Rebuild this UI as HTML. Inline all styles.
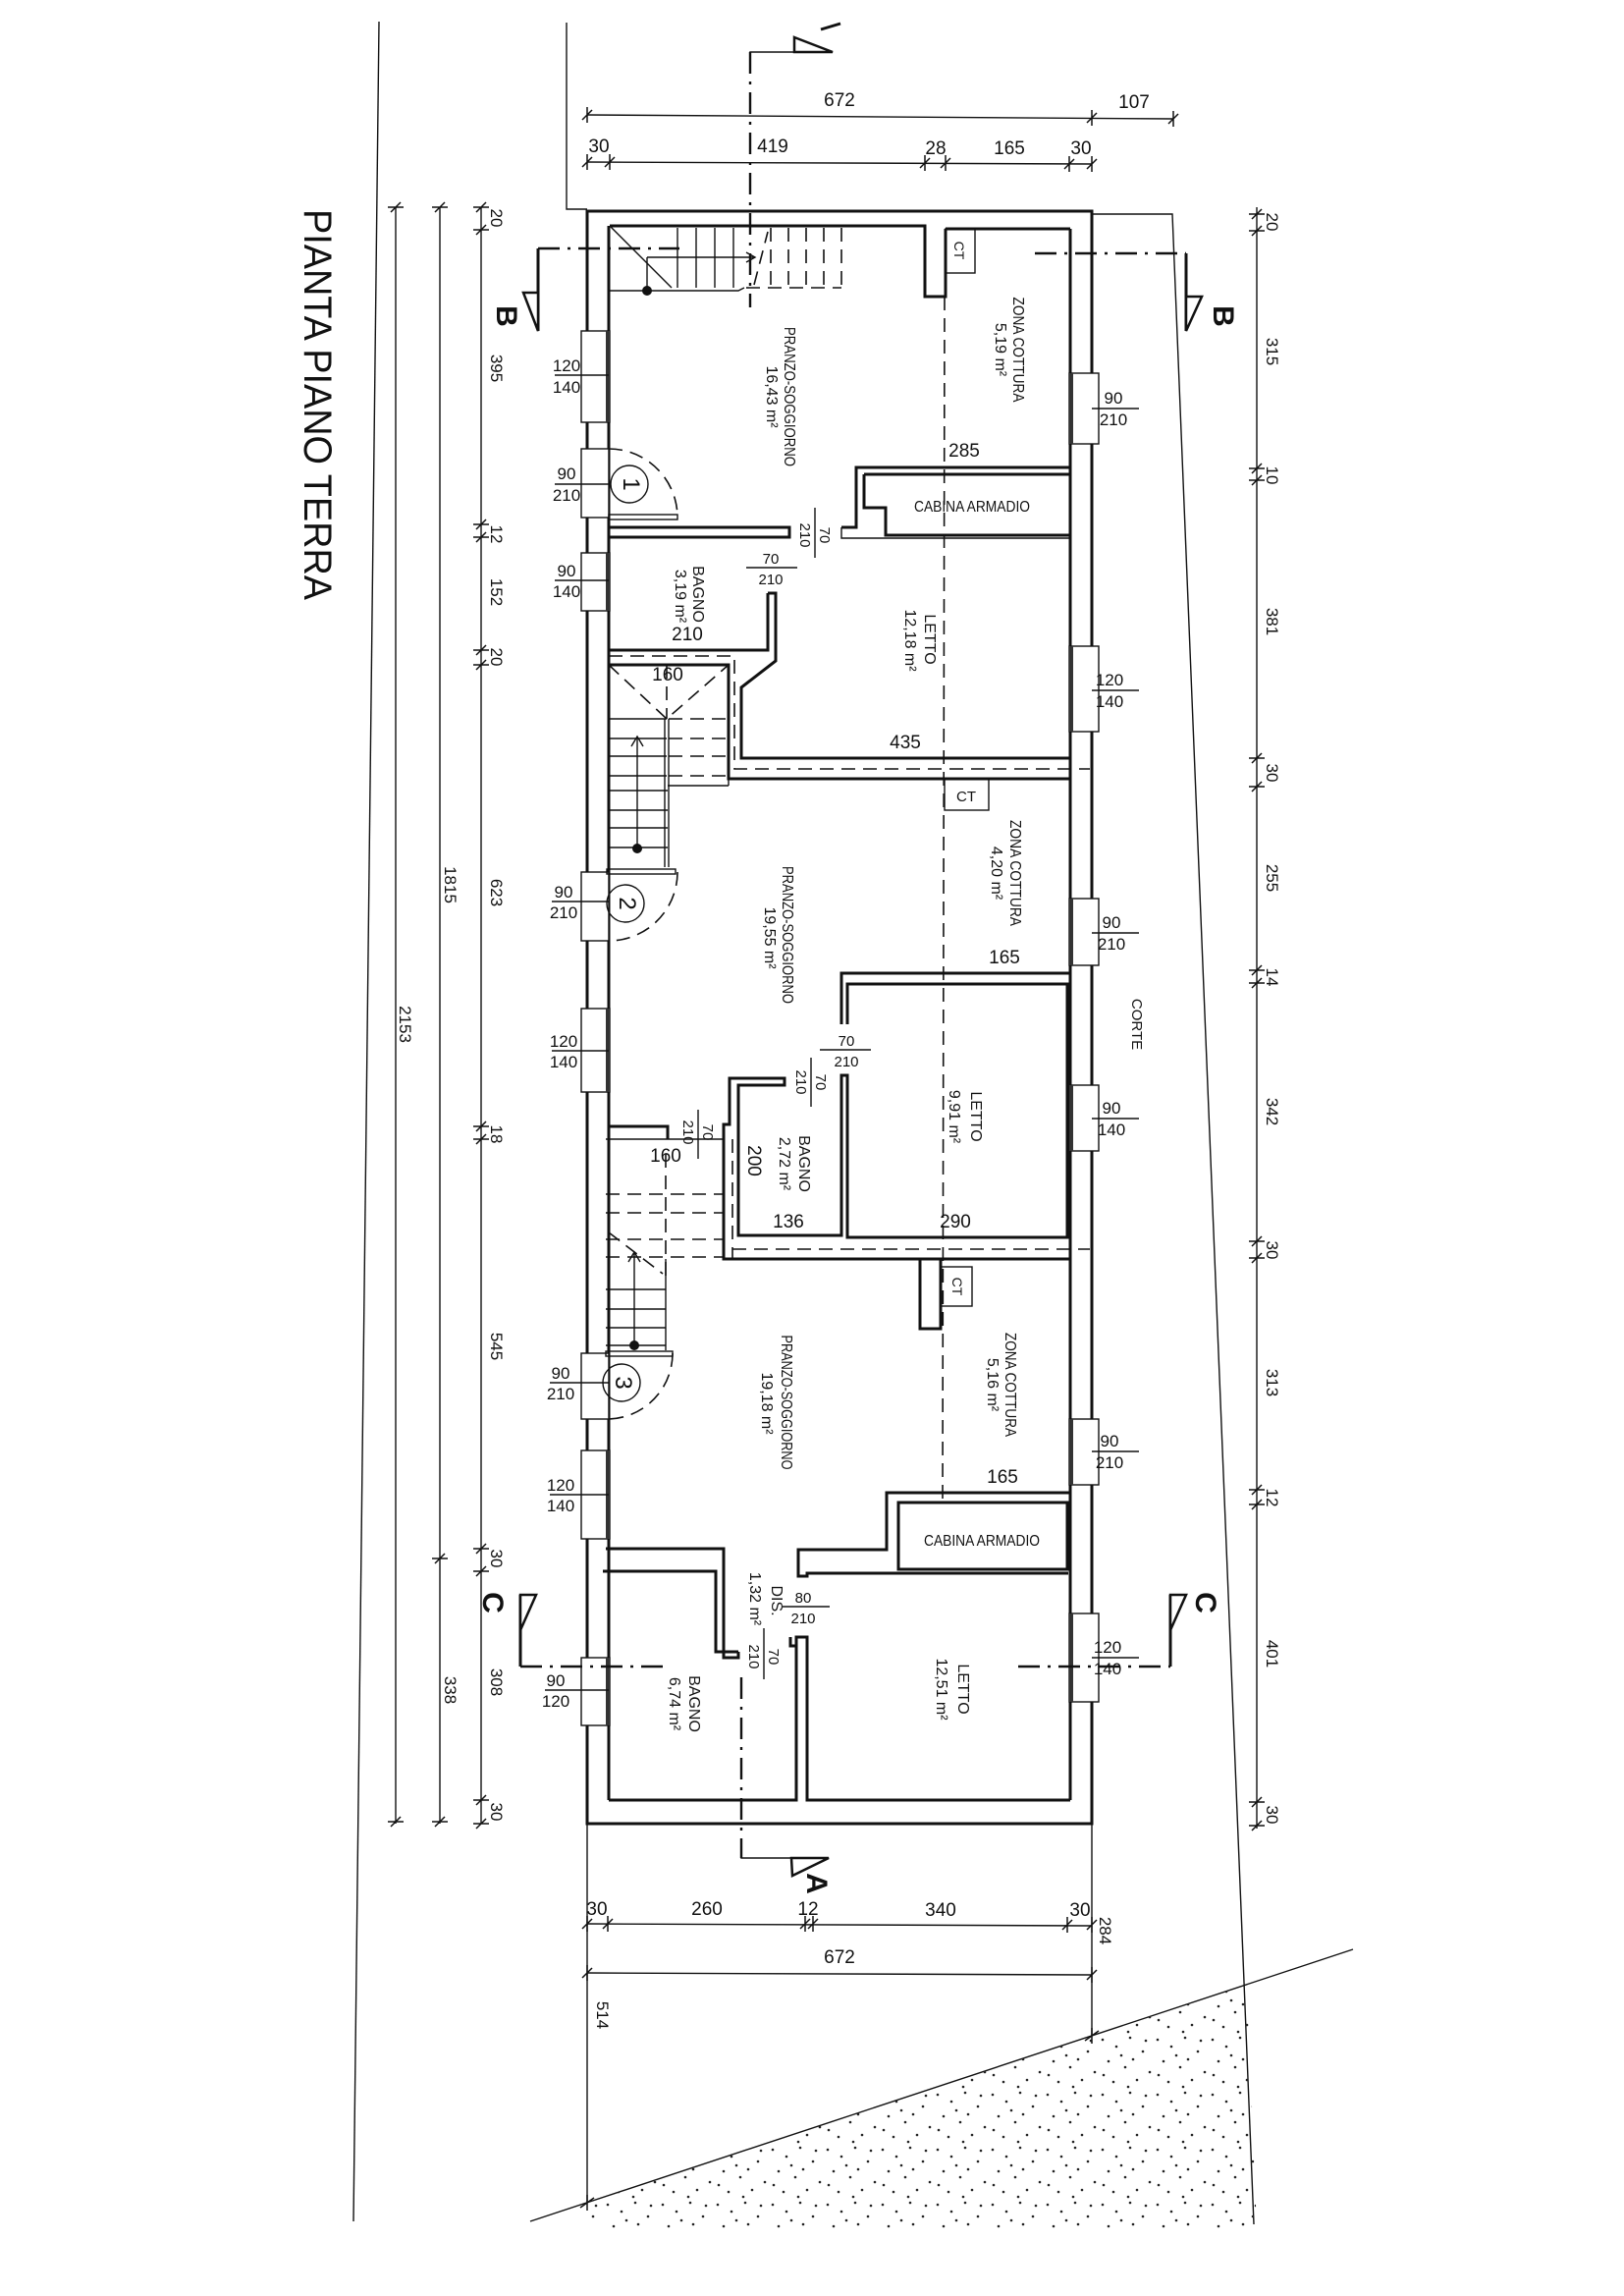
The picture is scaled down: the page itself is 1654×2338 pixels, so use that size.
<!DOCTYPE html>
<html><head><meta charset="utf-8"><style>
html,body{margin:0;padding:0;background:#fff}
svg{display:block}
text{font-family:"Liberation Sans Narrow","Liberation Sans",sans-serif;fill:#111}
.w{fill:none;stroke:#111;stroke-width:3}
.t{fill:none;stroke:#111;stroke-width:1.4}
.d{fill:none;stroke:#111;stroke-width:1.6;stroke-dasharray:14 8}
.dd{fill:none;stroke:#111;stroke-width:2.4;stroke-dasharray:22 8 3 8}
.win{fill:#fff;stroke:#111;stroke-width:1.4}
</style></head><body>
<svg width="1654" height="2338" viewBox="0 0 1654 2338" xmlns="http://www.w3.org/2000/svg">
<defs>
<pattern id="dots" width="56" height="56" patternUnits="userSpaceOnUse">
<g fill="#222"><circle cx="3" cy="5" r="1.3"/><circle cx="17" cy="12" r="1.3"/><circle cx="31" cy="3" r="1.3"/><circle cx="44" cy="17" r="1.3"/><circle cx="9" cy="27" r="1.3"/><circle cx="26" cy="33" r="1.3"/><circle cx="51" cy="38" r="1.3"/><circle cx="38" cy="46" r="1.3"/><circle cx="14" cy="48" r="1.3"/><circle cx="22" cy="21" r="1.3"/><circle cx="47" cy="6" r="1.3"/><circle cx="4" cy="41" r="1.3"/><circle cx="34" cy="25" r="1.3"/><circle cx="29" cy="53" r="1.3"/></g>
</pattern>
<clipPath id="gc"><polygon points="598,2243 1270,2020 1280,2270 600,2270"/></clipPath>
</defs>

<!-- title -->
<text transform="translate(310,412) rotate(90)" font-size="40" text-anchor="middle" textLength="398" lengthAdjust="spacingAndGlyphs" font-family="Liberation Sans">PIANTA PIANO TERRA</text>

<!-- site lines -->
<line class="t" x1="386" y1="22" x2="360" y2="2262"/>
<polyline class="t" points="577,23 577,213 598,213"/>
<polyline class="t" points="1112,218 1194,218 1277,2265"/>

<!-- ground -->
<line class="t" x1="540" y1="2262" x2="1378" y2="1985"/>
<rect x="590" y="1990" width="700" height="280" fill="url(#dots)" clip-path="url(#gc)"/>
<line class="t" x1="598" y1="1857" x2="598" y2="2243"/>
<line class="t" x1="1112" y1="1857" x2="1112" y2="2073"/>

<!-- building outer -->
<rect x="598" y="215" width="514" height="1642" fill="none" stroke="#111" stroke-width="3"/>
<!-- outer left wall inner line -->
<line class="w" x1="620" y1="230" x2="620" y2="1833"/>
<line class="w" x1="1090" y1="233" x2="1090" y2="1833"/>

<!-- windows left -->
<g>
<rect class="win" x="592" y="337" width="29" height="93"/><line x1="619" y1="337" x2="619" y2="430" stroke="#333" stroke-width="4"/>
<rect class="win" x="592" y="563" width="29" height="59"/><line x1="619" y1="563" x2="619" y2="622" stroke="#333" stroke-width="4"/>
<rect class="win" x="592" y="1027" width="29" height="85"/><line x1="619" y1="1027" x2="619" y2="1112" stroke="#333" stroke-width="4"/>
<rect class="win" x="592" y="1477" width="29" height="90"/><line x1="619" y1="1477" x2="619" y2="1567" stroke="#333" stroke-width="4"/>
<rect class="win" x="592" y="1688" width="29" height="69"/><line x1="619" y1="1688" x2="619" y2="1757" stroke="#333" stroke-width="4"/>
</g>
<!-- windows right -->
<g>
<rect class="win" x="1089" y="380" width="30" height="72"/><line x1="1091" y1="380" x2="1091" y2="452" stroke="#333" stroke-width="4"/>
<rect class="win" x="1089" y="658" width="30" height="87"/><line x1="1091" y1="658" x2="1091" y2="745" stroke="#333" stroke-width="4"/>
<rect class="win" x="1089" y="915" width="30" height="68"/><line x1="1091" y1="915" x2="1091" y2="983" stroke="#333" stroke-width="4"/>
<rect class="win" x="1089" y="1105" width="30" height="67"/><line x1="1091" y1="1105" x2="1091" y2="1172" stroke="#333" stroke-width="4"/>
<rect class="win" x="1089" y="1445" width="30" height="67"/><line x1="1091" y1="1445" x2="1091" y2="1512" stroke="#333" stroke-width="4"/>
<rect class="win" x="1089" y="1643" width="30" height="90"/><line x1="1091" y1="1643" x2="1091" y2="1733" stroke="#333" stroke-width="4"/>
</g>

<!-- entrance doors -->
<g>
<rect x="592" y="457" width="28" height="70" fill="#fff" stroke="#111" stroke-width="1.4"/>
<path class="d" d="M620,457 A70,70 0 0 1 690,527" stroke-dasharray="8 5"/>
<rect x="620" y="524" width="70" height="5" class="t"/>
<circle cx="641" cy="493" r="19" class="t" stroke-width="2"/>
<text transform="translate(635,493) rotate(90)" font-size="24" text-anchor="middle">1</text>
<rect x="592" y="888" width="28" height="70" fill="#fff" stroke="#111" stroke-width="1.4"/>
<path class="d" d="M690,888 A70,70 0 0 1 620,958" stroke-dasharray="8 5"/>
<rect x="618" y="885" width="70" height="5" class="t"/>
<circle cx="637" cy="920" r="19" class="t" stroke-width="2"/>
<text transform="translate(631,920) rotate(90)" font-size="24" text-anchor="middle">2</text>
<rect x="592" y="1378" width="28" height="67" fill="#fff" stroke="#111" stroke-width="1.4"/>
<path class="d" d="M685,1378 A67,67 0 0 1 620,1445" stroke-dasharray="8 5"/>
<rect x="617" y="1376" width="68" height="5" class="t"/>
<circle cx="633" cy="1408" r="19" class="t" stroke-width="2"/>
<text transform="translate(627,1408) rotate(90)" font-size="24" text-anchor="middle">3</text>
</g>

<!-- UNIT 1 -->
<path class="w" d="M857,537 L872,537 L872,476 L1090,476 M963,233 L963,302 L942,302 L942,230 L621,230 M963,233 L1090,233 M621,537 L804,537 L804,547 L620,547 M782,604 L782,662 L620,662"/>
<path class="w" d="M880,483 L1090,483 M1090,545 L902,545 L902,517 L880,517 L880,483"/>
<path class="t" d="M857,537 L857,548 L1090,548"/>
<path class="w" d="M782,604 L790,604 L790,673 L755,700 L755,772 L1090,772"/>
<rect x="963" y="233" width="30" height="45" class="t"/>
<text transform="translate(972,255) rotate(90)" font-size="14" text-anchor="middle">CT</text>
<!-- stair 1 -->
<g class="t">
<line x1="621" y1="230" x2="684" y2="293"/>
<polyline points="621,296 752,296 758,293"/>
<line x1="659" y1="262" x2="659" y2="296"/>
<line x1="659" y1="262" x2="769" y2="262"/>
<polyline points="760,257 769,262 760,267"/>
<line x1="690" y1="232" x2="690" y2="293"/><line x1="709" y1="232" x2="709" y2="293"/><line x1="728" y1="232" x2="728" y2="293"/><line x1="747" y1="232" x2="747" y2="293"/>
</g>
<g class="d" stroke-dasharray="6 4" stroke-width="1.3">
<line x1="785" y1="232" x2="785" y2="293"/><line x1="803" y1="232" x2="803" y2="293"/><line x1="821" y1="232" x2="821" y2="293"/><line x1="839" y1="232" x2="839" y2="293"/><line x1="857" y1="232" x2="857" y2="293"/>
<line x1="760" y1="293" x2="857" y2="293"/><line x1="768" y1="290" x2="782" y2="236"/>
</g>
<circle cx="659" cy="296" r="5" fill="#111"/>

<!-- stair 2 -->
<path class="w" d="M620,677 L742,677 L742,793 L1090,793"/>
<path class="d" stroke-width="1.4" d="M620,668 L748,668 L748,783 L1110,783"/>
<path class="d" stroke-width="1.4" stroke-dasharray="8 5" d="M620,677 L679,732 L742,677 M679,677 L679,732 M681,732 L742,732 M681,752 L742,752 M681,770 L742,770 M681,790 L742,790"/>
<g class="t">
<line x1="620" y1="732" x2="679" y2="732"/><line x1="620" y1="752" x2="679" y2="752"/><line x1="620" y1="770" x2="679" y2="770"/><line x1="620" y1="790" x2="679" y2="790"/>
<line x1="677" y1="732" x2="677" y2="883"/><line x1="681" y1="732" x2="681" y2="883"/>
<line x1="620" y1="805" x2="680" y2="805"/><line x1="620" y1="825" x2="680" y2="825"/><line x1="620" y1="843" x2="680" y2="843"/><line x1="620" y1="863" x2="680" y2="863"/>
<line x1="649" y1="750" x2="649" y2="864"/><polyline points="643,760 649,750 655,760"/>
<line x1="742" y1="793" x2="742" y2="800"/><line x1="680" y1="800" x2="742" y2="800"/>
</g>
<circle cx="649" cy="864" r="5" fill="#111"/>

<!-- UNIT 2 -->
<rect x="962" y="793" width="45" height="32" class="t"/>
<text x="984" y="816" font-size="15" text-anchor="middle">CT</text>
<path class="w" d="M857,1043 L857,991 L1090,991 M863,1043 L863,1002 L1087,1002 L1087,1260 L863,1260 L863,1095 L857,1095 L857,1258 L752,1258 L752,1105 L799,1105 L799,1098 L743,1098 L743,1145 L737,1145 L737,1282 L1090,1282"/>
<path class="d" stroke-width="1.4" d="M746,1272 L1110,1272"/>
<path class="w" d="M620,1147 L680,1147 L680,1160"/>
<!-- stair 3 -->
<path class="d" stroke-width="1.4" stroke-dasharray="8 5" d="M617,1216 L738,1216 M617,1235 L738,1235 M617,1262 L738,1262 M617,1280 L738,1280 M678,1175 L678,1300 M746,1160 L746,1282 M620,1255 L675,1297"/>
<g class="t">
<line x1="617" y1="1160" x2="738" y2="1160"/>
<line x1="678" y1="1282" x2="678" y2="1375"/>
<line x1="617" y1="1313" x2="678" y2="1313"/><line x1="617" y1="1333" x2="678" y2="1333"/><line x1="617" y1="1352" x2="678" y2="1352"/><line x1="617" y1="1370" x2="678" y2="1370"/>
<line x1="646" y1="1275" x2="646" y2="1370"/><polyline points="640,1285 646,1275 652,1285"/>
</g>
<circle cx="646" cy="1370" r="5" fill="#111"/>

<!-- UNIT 3 -->
<path class="w" d="M937,1282 L937,1353 L958,1353 L958,1282"/>
<rect x="958" y="1290" width="32" height="40" class="t"/>
<text transform="translate(970,1310) rotate(90)" font-size="14" text-anchor="middle">CT</text>
<path class="w" d="M1090,1520 L903,1520 L903,1578 L813,1578 L813,1605 L822,1605 L822,1602 L1088,1602"/>
<rect x="915" y="1530" width="172" height="68" class="w"/>
<path class="w" d="M617,1577 L737,1577 L737,1688 L752,1688 L752,1682 M752,1682 L729,1682 L729,1600 L614,1600 M620,1833 L811,1833 L811,1667 L822,1667 L822,1833 L1090,1833"/>
<path class="w" d="M805,1667 L805,1676 L811,1676"/>

<!-- long dashed line -->
<line class="d" x1="962" y1="302" x2="960" y2="1530" stroke-dasharray="22 10"/>

<!-- sections -->
<polyline class="dd" points="764,53 764,313"/>
<polyline points="764,70 764,53 848,53" class="t" stroke-width="3"/>
<polygon points="809,38 848,53 809,53" fill="#fff" stroke="#111" stroke-width="2.5"/>
<line x1="836" y1="30" x2="856" y2="24" stroke="#111" stroke-width="3"/>
<polyline class="dd" points="755,1708 755,1892"/>
<polyline points="755,1880 755,1892 844,1892" class="t" stroke-width="3"/>
<polygon points="806,1892 844,1892 807,1910" fill="#fff" stroke="#111" stroke-width="2.5"/>
<text transform="translate(822,1918) rotate(90)" font-size="30" font-weight="bold" text-anchor="middle">A</text>

<polyline class="dd" points="548,253 692,253"/>
<line x1="548" y1="253" x2="548" y2="337" stroke="#111" stroke-width="3"/>
<polygon points="533,298 548,298 548,337" fill="#fff" stroke="#111" stroke-width="2.5"/>
<text transform="translate(506,322) rotate(90)" font-size="30" font-weight="bold" text-anchor="middle">B</text>
<polyline class="dd" points="1054,258 1208,258"/>
<line x1="1208" y1="258" x2="1208" y2="337" stroke="#111" stroke-width="3"/>
<polygon points="1208,302 1224,302 1208,337" fill="#fff" stroke="#111" stroke-width="2.5"/>
<text transform="translate(1236,322) rotate(90)" font-size="30" font-weight="bold" text-anchor="middle">B</text>

<polyline class="dd" points="530,1697 683,1697"/>
<line x1="530" y1="1697" x2="530" y2="1624" stroke="#111" stroke-width="3"/>
<polygon points="530,1624 546,1624 530,1660" fill="#fff" stroke="#111" stroke-width="2.5"/>
<text transform="translate(492,1632) rotate(90)" font-size="30" font-weight="bold" text-anchor="middle">C</text>
<polyline class="dd" points="1037,1697 1192,1697"/>
<line x1="1192" y1="1697" x2="1192" y2="1624" stroke="#111" stroke-width="3"/>
<polygon points="1192,1624 1208,1624 1192,1660" fill="#fff" stroke="#111" stroke-width="2.5"/>
<text transform="translate(1218,1632) rotate(90)" font-size="30" font-weight="bold" text-anchor="middle">C</text>

<!-- top dimensions -->
<g class="t">
<line x1="598" y1="117" x2="1195" y2="121"/>
<line x1="598" y1="165" x2="1112" y2="167"/>
</g>
<g stroke="#111" stroke-width="1.5">
<path d="M598,109v16M593,122l10,-10M1112,112v16M1107,125l10,-10M1195,113v16M1190,126l10,-10"/>
<path d="M598,157v16M593,170l10,-10M621,157v16M616,170l10,-10M942,158v16M937,171l10,-10M963,158v16M958,171l10,-10M1089,159v16M1084,172l10,-10M1112,159v16M1107,172l10,-10"/>
</g>
<g font-size="19" text-anchor="middle">
<text x="855" y="108">672</text><text x="1155" y="110">107</text>
<text x="610" y="155">30</text><text x="787" y="155">419</text><text x="953" y="157">28</text><text x="1028" y="157">165</text><text x="1101" y="157">30</text>
</g>

<!-- bottom dimensions -->
<g class="t"><line x1="598" y1="1959" x2="1112" y2="1961"/><line x1="598" y1="2009" x2="1112" y2="2011"/></g>
<g stroke="#111" stroke-width="1.5">
<path d="M598,1951v16M593,1964l10,-10M619,1951v16M614,1964l10,-10M820,1951v16M815,1964l10,-10M828,1951v16M823,1964l10,-10M1087,1952v16M1082,1965l10,-10M1112,1952v16M1107,1965l10,-10"/>
<path d="M598,2001v16M593,2014l10,-10M1112,2003v16M1107,2016l10,-10M1112,2065v16M1105,2078l14,-10M598,2235v16M591,2248l14,-10"/>
</g>
<g font-size="19" text-anchor="middle">
<text x="608" y="1950">30</text><text x="720" y="1950">260</text><text x="823" y="1950">12</text><text x="958" y="1951">340</text><text x="1100" y="1951">30</text>
<text x="855" y="1999">672</text>
</g>
<text transform="translate(1120,1966) rotate(90)" font-size="17" text-anchor="middle">284</text>
<text transform="translate(608,2052) rotate(90)" font-size="17" text-anchor="middle">514</text>

<!-- left vertical dims -->
<g class="t">
<line x1="403" y1="211" x2="403" y2="1857"/>
<line x1="448" y1="211" x2="448" y2="1857"/>
<line x1="490" y1="211" x2="490" y2="1857"/>
</g>
<g stroke="#111" stroke-width="1.5">
<path d="M395,211h16M398,216l10,-10M395,1855h16M398,1860l10,-10"/>
<path d="M440,211h16M443,216l10,-10M440,1587h16M443,1592l10,-10M440,1855h16M443,1860l10,-10"/>
<path d="M482,211h16M485,216l10,-10M482,234h16M485,239l10,-10M482,534h16M485,539l10,-10M482,547h16M485,552l10,-10M482,662h16M485,667l10,-10M482,677h16M485,682l10,-10M482,1147h16M485,1152l10,-10M482,1160h16M485,1165l10,-10M482,1577h16M485,1582l10,-10M482,1600h16M485,1605l10,-10M482,1833h16M485,1838l10,-10M482,1857h16M485,1862l10,-10"/>
</g>
<g font-size="17" text-anchor="middle">
<text transform="translate(407,1043) rotate(90)">2153</text>
<text transform="translate(453,901) rotate(90)">1815</text>
<text transform="translate(453,1721) rotate(90)">338</text>
<text transform="translate(500,222) rotate(90)">20</text>
<text transform="translate(500,375) rotate(90)">395</text>
<text transform="translate(500,544) rotate(90)">12</text>
<text transform="translate(500,603) rotate(90)">152</text>
<text transform="translate(500,669) rotate(90)">20</text>
<text transform="translate(500,909) rotate(90)">623</text>
<text transform="translate(500,1155) rotate(90)">18</text>
<text transform="translate(500,1371) rotate(90)">545</text>
<text transform="translate(500,1587) rotate(90)">30</text>
<text transform="translate(500,1713) rotate(90)">308</text>
<text transform="translate(500,1845) rotate(90)">30</text>
</g>

<!-- right vertical dims -->
<line class="t" x1="1280" y1="211" x2="1280" y2="1862"/>
<g stroke="#111" stroke-width="1.5">
<path d="M1272,218h16M1275,223l10,-10M1272,235h16M1275,240l10,-10M1272,477h16M1275,482l10,-10M1272,489h16M1275,494l10,-10M1272,772h16M1275,777l10,-10M1272,801h16M1275,806l10,-10M1272,988h16M1275,993l10,-10M1272,1001h16M1275,1006l10,-10M1272,1264h16M1275,1269l10,-10M1272,1281h16M1275,1286l10,-10M1272,1517h16M1275,1522l10,-10M1272,1532h16M1275,1537l10,-10M1272,1835h16M1275,1840l10,-10M1272,1859h16M1275,1864l10,-10"/>
</g>
<g font-size="17" text-anchor="middle">
<text transform="translate(1290,226) rotate(90)">20</text>
<text transform="translate(1290,358) rotate(90)">315</text>
<text transform="translate(1290,484) rotate(90)">10</text>
<text transform="translate(1290,633) rotate(90)">381</text>
<text transform="translate(1290,787) rotate(90)">30</text>
<text transform="translate(1290,894) rotate(90)">255</text>
<text transform="translate(1290,995) rotate(90)">14</text>
<text transform="translate(1290,1132) rotate(90)">342</text>
<text transform="translate(1290,1273) rotate(90)">30</text>
<text transform="translate(1290,1408) rotate(90)">313</text>
<text transform="translate(1290,1525) rotate(90)">12</text>
<text transform="translate(1290,1684) rotate(90)">401</text>
<text transform="translate(1290,1848) rotate(90)">30</text>
<text transform="translate(1153,1043) rotate(90)" font-size="15">CORTE</text>
</g>

<!-- window/door labels left -->
<g font-size="17" text-anchor="middle">
<g class="t"><line x1="565" y1="382" x2="620" y2="382"/><line x1="565" y1="493" x2="620" y2="493"/><line x1="565" y1="591" x2="620" y2="591"/><line x1="562" y1="918" x2="620" y2="918"/><line x1="562" y1="1070" x2="620" y2="1070"/><line x1="560" y1="1408" x2="620" y2="1408"/><line x1="560" y1="1522" x2="620" y2="1522"/><line x1="555" y1="1721" x2="620" y2="1721"/></g>
<text x="577" y="378">120</text><text x="577" y="400">140</text>
<text x="577" y="488">90</text><text x="577" y="510">210</text>
<text x="577" y="587">90</text><text x="577" y="608">140</text>
<text x="574" y="914">90</text><text x="574" y="935">210</text>
<text x="574" y="1066">120</text><text x="574" y="1087">140</text>
<text x="571" y="1404">90</text><text x="571" y="1425">210</text>
<text x="571" y="1518">120</text><text x="571" y="1539">140</text>
<text x="566" y="1717">90</text><text x="566" y="1738">120</text>
</g>
<!-- window labels right -->
<g font-size="17" text-anchor="middle">
<g class="t"><line x1="1112" y1="416" x2="1160" y2="416"/><line x1="1112" y1="703" x2="1160" y2="703"/><line x1="1112" y1="950" x2="1160" y2="950"/><line x1="1112" y1="1139" x2="1160" y2="1139"/><line x1="1112" y1="1478" x2="1160" y2="1478"/><line x1="1112" y1="1688" x2="1160" y2="1688"/></g>
<text x="1134" y="411">90</text><text x="1134" y="433">210</text>
<text x="1130" y="698">120</text><text x="1130" y="720">140</text>
<text x="1132" y="945">90</text><text x="1132" y="967">210</text>
<text x="1132" y="1134">90</text><text x="1132" y="1156">140</text>
<text x="1130" y="1473">90</text><text x="1130" y="1495">210</text>
<text x="1128" y="1683">120</text><text x="1128" y="1705">140</text>
</g>

<!-- room labels unit 1 -->
<g font-size="16" text-anchor="middle">
<text transform="translate(799,404) rotate(90)" textLength="142" lengthAdjust="spacingAndGlyphs">PRANZO-SOGGIORNO</text>
<text transform="translate(781,404) rotate(90)">16,43 m²</text>
<text transform="translate(1032,356) rotate(90)" textLength="107" lengthAdjust="spacingAndGlyphs">ZONA COTTURA</text>
<text transform="translate(1014,356) rotate(90)">5,19 m²</text>
<text x="990" y="521" textLength="118" lengthAdjust="spacingAndGlyphs">CABINA ARMADIO</text>
<text transform="translate(706,605) rotate(90)">BAGNO</text>
<text transform="translate(688,607) rotate(90)">3,19 m²</text>
<text transform="translate(942,651) rotate(90)">LETTO</text>
<text transform="translate(922,652) rotate(90)">12,18 m²</text>
</g>
<g font-size="19" text-anchor="middle">
<text x="700" y="652">210</text><text x="982" y="465">285</text><text x="922" y="762">435</text><text x="680" y="693">160</text>
</g>
<g font-size="15" text-anchor="middle">
<line class="t" x1="830" y1="517" x2="830" y2="568"/>
<text transform="translate(835,545) rotate(90)">70</text><text transform="translate(815,545) rotate(90)">210</text>
<line class="t" x1="760" y1="578" x2="812" y2="578"/>
<text x="785" y="574">70</text><text x="785" y="595">210</text>
</g>

<!-- room labels unit 2 -->
<g font-size="16" text-anchor="middle">
<text transform="translate(797,952) rotate(90)" textLength="140" lengthAdjust="spacingAndGlyphs">PRANZO-SOGGIORNO</text>
<text transform="translate(779,955) rotate(90)">19,55 m²</text>
<text transform="translate(1029,889) rotate(90)" textLength="108" lengthAdjust="spacingAndGlyphs">ZONA COTTURA</text>
<text transform="translate(1010,889) rotate(90)">4,20 m²</text>
<text transform="translate(989,1137) rotate(90)">LETTO</text>
<text transform="translate(967,1137) rotate(90)">9,91 m²</text>
<text transform="translate(814,1185) rotate(90)">BAGNO</text>
<text transform="translate(794,1185) rotate(90)">2,72 m²</text>
</g>
<g font-size="19" text-anchor="middle">
<text x="1023" y="981">165</text><text x="973" y="1250">290</text><text x="803" y="1250">136</text><text x="678" y="1183">160</text>
<text transform="translate(762,1182) rotate(90)">200</text>
</g>
<g font-size="15" text-anchor="middle">
<line class="t" x1="835" y1="1069" x2="887" y2="1069"/>
<text x="862" y="1065">70</text><text x="862" y="1086">210</text>
<line class="t" x1="826" y1="1077" x2="826" y2="1127"/>
<text transform="translate(831,1102) rotate(90)">70</text><text transform="translate(811,1102) rotate(90)">210</text>
<line class="t" x1="711" y1="1130" x2="711" y2="1180"/>
<text transform="translate(716,1153) rotate(90)">70</text><text transform="translate(696,1153) rotate(90)">210</text>
</g>

<!-- room labels unit 3 -->
<g font-size="16" text-anchor="middle">
<text transform="translate(796,1428) rotate(90)" textLength="137" lengthAdjust="spacingAndGlyphs">PRANZO-SOGGIORNO</text>
<text transform="translate(776,1429) rotate(90)">19,18 m²</text>
<text transform="translate(1024,1410) rotate(90)" textLength="106" lengthAdjust="spacingAndGlyphs">ZONA COTTURA</text>
<text transform="translate(1006,1410) rotate(90)">5,16 m²</text>
<text x="1000" y="1574" textLength="118" lengthAdjust="spacingAndGlyphs">CABINA ARMADIO</text>
<text transform="translate(786,1630) rotate(90)">DIS.</text>
<text transform="translate(764,1628) rotate(90)">1,32 m²</text>
<text transform="translate(976,1720) rotate(90)">LETTO</text>
<text transform="translate(954,1720) rotate(90)">12,51 m²</text>
<text transform="translate(702,1735) rotate(90)">BAGNO</text>
<text transform="translate(682,1735) rotate(90)">6,74 m²</text>
</g>
<text x="1021" y="1510" font-size="19" text-anchor="middle">165</text>
<g font-size="15" text-anchor="middle">
<line class="t" x1="797" y1="1636" x2="845" y2="1636"/>
<text x="818" y="1632">80</text><text x="818" y="1653">210</text>
<line class="t" x1="778" y1="1658" x2="778" y2="1710"/>
<text transform="translate(783,1687) rotate(90)">70</text><text transform="translate(763,1687) rotate(90)">210</text>
</g>
</svg>
</body></html>
